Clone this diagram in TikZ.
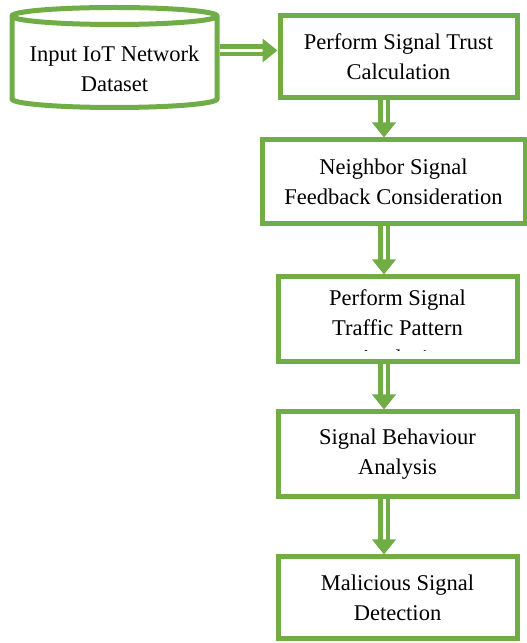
\documentclass[tikz,border=0pt]{standalone}
\usepackage{fontspec}
\setmainfont{Liberation Serif}
\usetikzlibrary{
  arrows.meta,
  shapes.geometric,
  positioning,
  calc
}
\definecolor{flowGreen}{HTML}{70AD47}
\tikzset{
  steptext/.style={align=center, font=\fontsize{22.5}{30}\selectfont, inner sep=0pt},
  stepbox/.style={steptext, draw=flowGreen, line width=5pt, fill=white},
  dbnode/.style={
    cylinder, shape border rotate=90, aspect=0.1,
    draw=flowGreen, line width=5pt, fill=white,
    inner xsep=85pt, inner ysep=0pt,
    minimum width=205pt, minimum height=100pt
  },
  flowarrow/.style={
    draw=flowGreen, line width=4.5pt, double=white, double distance=3pt,
    -{Triangle[length=15pt, width=23pt]}
  }
}

\begin{document}
\begin{tikzpicture}[x=1pt, y=1pt]
  \useasboundingbox (0,0) rectangle (527,643);
  \coordinate (spine) at (384,0);

  % dataset drum, caption sits low in the body
  \node[dbnode, anchor=shape center] (data) at (114.5,585.5) {};
  \node[steptext] (datalbl) at ([yshift=-11pt]data.shape center) {Input IoT Network\\Dataset};

  \node[stepbox, minimum width=237pt, minimum height=82pt] (trust) at (398.5,586) {Perform Signal Trust\\Calculation};
  \node[stepbox, minimum width=263pt, minimum height=84pt] (feedback) at (393.5,461) {Neighbor Signal\\Feedback Consideration};
  \node[stepbox, minimum width=239pt, minimum height=85pt] (traffic) at (397.5,323.5) {};
  % third line runs past the frame and is cut off
  \begin{scope}
    \clip ([shift={(5pt,14pt)}]traffic.south west) rectangle ([shift={(-5pt,-5pt)}]traffic.north east);
    \node[steptext, anchor=north] (trafficlbl) at ([yshift=-15pt]traffic.north) {Perform Signal\\Traffic Pattern\\Analysis};
  \end{scope}
  \node[stepbox, minimum width=239pt, minimum height=85pt] (behaviour) at (397.5,188.5) {Signal Behaviour\\Analysis};
  \node[stepbox, minimum width=239pt, minimum height=82pt] (detect) at (397.5,45) {Malicious Signal\\Detection};

  \draw[flowarrow] ([yshift=7pt]data.shape center -| data.east) -- ([yshift=7pt]data.shape center -| trust.west);
  \draw[flowarrow] (trust.south -| spine) -- (feedback.north -| spine);
  \draw[flowarrow] (feedback.south -| spine) -- (traffic.north -| spine);
  \draw[flowarrow] (traffic.south -| spine) -- (behaviour.north -| spine);
  \draw[flowarrow] (behaviour.south -| spine) -- (detect.north -| spine);
\end{tikzpicture}
\end{document}
